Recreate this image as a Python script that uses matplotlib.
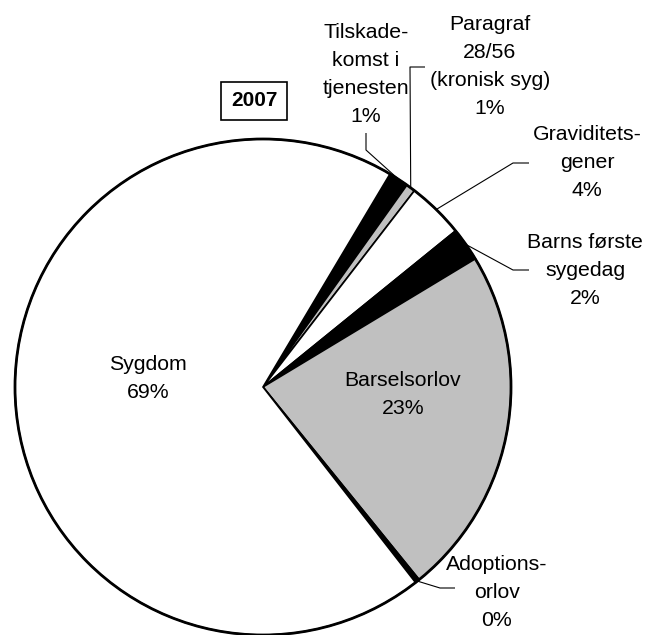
import numpy as np
import matplotlib
matplotlib.use("Agg")
import matplotlib.pyplot as plt
from matplotlib.patches import Circle

plt.rcParams['font.family'] = ['Liberation Sans', 'DejaVu Sans']

# Data (clockwise order starting near the top)
labels = ["Tilskade-\nkomst i\ntjenesten", "Paragraf\n28/56\n(kronisk syg)",
          "Graviditets-\ngener", "Barns første\nsygedag", "Barselsorlov",
          "Adoptions-\norlov", "Sygdom"]
values = [1.3, 0.6, 3.7, 2.2, 22.8, 0.3, 69.1]
colors = ["#000000", "#c0c0c0", "#ffffff", "#000000", "#c0c0c0", "#000000", "#ffffff"]
title = "2007"

W, H = 652, 635
fig = plt.figure(figsize=(W / 100, H / 100), dpi=100)
ax = fig.add_axes([0, 0, 1, 1])
ax.set_xlim(0, W)
ax.set_ylim(0, H)
ax.set_aspect('equal')
ax.axis('off')

cx, cy, R = 263, H - 387, 248
start = 90 - 30.8
wedges, _ = ax.pie(values, colors=colors, startangle=start, counterclock=False,
                   center=(cx, cy), radius=R, frame=True,
                   wedgeprops=dict(edgecolor='black', linewidth=1.2))
ax.set_xlim(0, W)
ax.set_ylim(0, H)
ax.axis('off')
ax.add_patch(Circle((cx, cy), R, fill=False, edgecolor='black', linewidth=2.0, zorder=5))

pct = [f"{v / sum(values) * 100:.0f}%" for v in values]
fs = 15.3
ls = 1.6

def mid_point(w):
    a = np.deg2rad((w.theta1 + w.theta2) / 2)
    return cx + R * np.cos(a), cy + R * np.sin(a)

def yy(y):
    return H - y

# Label layout: (text x, text y in px from top, leader path points after anchor)
layout = {
    0: ((366, 75), [(366, 150), (366, 133)]),
    1: ((490, 66), [(410, 67), (425, 67)]),
    2: ((587, 163), [(513, 163), (529, 163)]),
    3: ((585, 270), [(513, 270), (529, 270)]),
    5: ((497, 593), [(440, 588), (455, 588)]),
}
for i, ((tx, ty), path) in layout.items():
    ax.text(tx, yy(ty), labels[i] + "\n" + pct[i], ha='center', va='center',
            fontsize=fs, linespacing=ls, zorder=6)
    ax_, ay_ = mid_point(wedges[i])
    xs = [ax_] + [p[0] for p in path]
    ys = [ay_] + [yy(p[1]) for p in path]
    ax.plot(xs, ys, color='black', linewidth=0.8, zorder=6, solid_capstyle='butt')

ax.text(148, yy(379), labels[6] + "\n" + pct[6], ha='center', va='center',
        fontsize=fs, linespacing=ls, zorder=6)
ax.text(403, yy(394), labels[4] + "\n" + pct[4], ha='center', va='center',
        fontsize=fs, linespacing=ls, zorder=6)

ax.text(254, yy(101), title, ha='center', va='center', fontsize=15, fontweight='bold',
        zorder=6, bbox=dict(boxstyle='square,pad=0.45', facecolor='white',
                            edgecolor='black', linewidth=1.2))

fig.savefig("out.png", dpi=100)
